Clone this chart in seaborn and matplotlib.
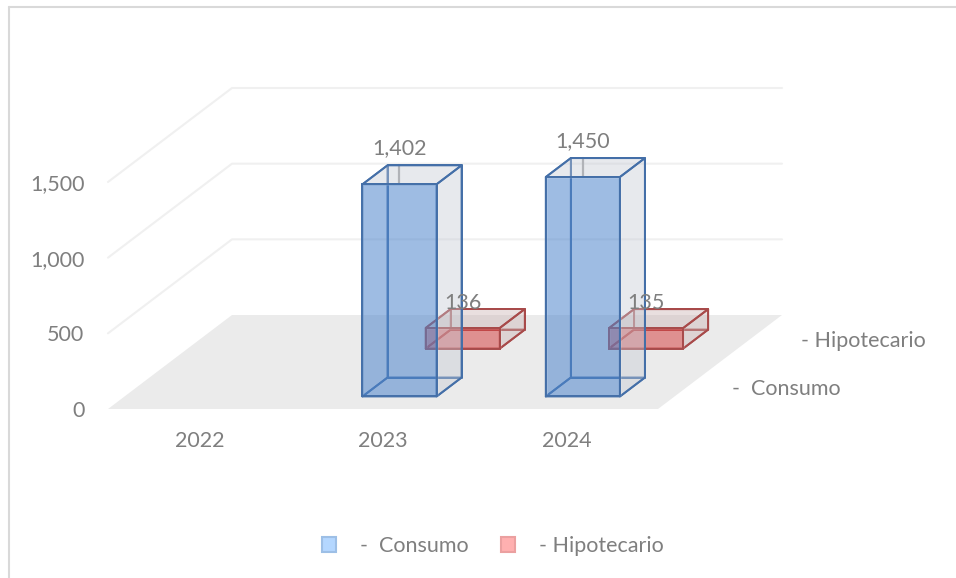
import matplotlib
matplotlib.use('Agg')
import matplotlib.pyplot as plt
import pandas as pd
import seaborn as sns
from matplotlib.lines import Line2D
from matplotlib.patches import Patch, Polygon
from matplotlib.transforms import Affine2D

years = ['2022', '2023', '2024']
consumo = [None, 1402, 1450]
hipotecario = [None, 136, 135]
value_ticks = [0, 500, 1000, 1500]
value_labels = ['0', '500', '1,000', '1,500']
series_labels = ['  -  Consumo', '- Hipotecario']

W, H = 956, 578
GRAY = '#7f7f7f'
FS = 15.5
# one full step of depth in data units, this is what makes the chart look 3d
DX = 124 / 183.33
DV = 94 / (227 / 1500)
BAR_W = 0.404
BAR_D = 0.202

sns.set_theme(style='white')
plt.rcParams['font.family'] = ['Lato', 'DejaVu Sans']
plt.rcParams['font.size'] = FS

fig = plt.figure(figsize=(W / 100, H / 100), dpi=100)
ax = fig.add_axes([108 / W, 169 / H, 550 / W, 227 / H])


def proj(x, v, d):
    return (x + d * DX, v + d * DV)


def face(pts, fc='none', ec='none', alpha=None, z=3, lw=1.4):
    xy = [proj(*p) for p in pts]
    ax.add_patch(Polygon(xy, closed=True, fc=fc, ec=ec, alpha=alpha, lw=lw,
                         zorder=z, clip_on=False, joinstyle='round'))


def draw_series(values, d0, front, edge, side, z):
    d1 = d0 + BAR_D
    for i, v in enumerate(values):
        if v is None:
            continue
        x0, x1 = i - BAR_W / 2, i + BAR_W / 2
        # hidden faces only show their outline
        face([(x0, 0, d1), (x1, 0, d1), (x1, v, d1), (x0, v, d1)], ec=edge, z=z)
        face([(x0, 0, d0), (x0, 0, d1), (x0, v, d1), (x0, v, d0)], ec=edge, z=z)
        face([(x0, 0, d0), (x1, 0, d0), (x1, 0, d1), (x0, 0, d1)], ec=edge, z=z)
        face([(x0, v, d0), (x1, v, d0), (x1, v, d1), (x0, v, d1)], fc=side, alpha=0.4, z=z)
        face([(x1, 0, d0), (x1, 0, d1), (x1, v, d1), (x1, v, d0)], fc=side, alpha=0.4, z=z)
        face([(x0, v, d0), (x1, v, d0), (x1, v, d1), (x0, v, d1)], ec=edge, z=z)
        face([(x1, 0, d0), (x1, 0, d1), (x1, v, d1), (x1, v, d0)], ec=edge, z=z)
    df = pd.DataFrame({'year': years, 'value': pd.to_numeric(pd.Series(values))})
    tf = Affine2D().translate(d0 * DX, d0 * DV) + ax.transData
    sns.barplot(data=df, x='year', y='value', order=years, ax=ax, color=front,
                saturation=1, alpha=0.55, width=BAR_W, errorbar=None,
                transform=tf, clip_on=False, zorder=z + 1)
    sns.barplot(data=df, x='year', y='value', order=years, ax=ax, fill=False,
                color=edge, saturation=1, width=BAR_W, errorbar=None, linewidth=1.4,
                transform=tf, clip_on=False, zorder=z + 1)


# floor and walls
face([(-0.5, 0, 0), (2.5, 0, 0), (2.5, 0, 1), (-0.5, 0, 1)], fc='#ebebeb', z=1)
for t in value_ticks[1:]:
    xs, ys = zip(proj(-0.5, t, 0), proj(-0.5, t, 1), proj(2.5, t, 1))
    ax.plot(xs, ys, color='#f0f0f0', lw=1.5, zorder=1, clip_on=False)

draw_series(hipotecario, 0.643, '#d64545', '#a84a4a', '#c9b1b1', 3)
draw_series(consumo, 0.133, '#4f86cc', '#446fa8', '#c3c9d4', 6)

# data labels, the tall bars also have a leader line
for i, v in enumerate(consumo):
    if v is None:
        continue
    cx, cy = proj(i, v, 0.133)
    ax.plot([cx, cx], [cy, cy + 19 / (227 / 1500)], color='#a6a6a6', lw=1.6, zorder=5, clip_on=False)
    ax.annotate(f'{v:,}', (cx, cy), xytext=(0, 36), textcoords='offset pixels',
                ha='center', va='center', color=GRAY, zorder=10, annotation_clip=False)
for i, v in enumerate(hipotecario):
    if v is None:
        continue
    cx, cy = proj(i, v, 0.643)
    ax.annotate(f'{v:,}', (cx, cy), xytext=(0, 25), textcoords='offset pixels',
                ha='center', va='center', color=GRAY, zorder=10, annotation_clip=False)

ax.set_xlim(-0.5, 2.5)
ax.set_ylim(0, 1500)
ax.set_yticks(value_ticks, value_labels)
ax.set_xlabel('')
ax.set_ylabel('')
ax.tick_params(axis='y', length=0, pad=17, labelcolor=GRAY, labelsize=FS)
ax.tick_params(axis='x', length=0, pad=16, labelcolor=GRAY, labelsize=FS)
ax.patch.set_visible(False)
sns.despine(ax=ax, left=True, bottom=True)

# depth axis labels
fig.text(801 / W, 1 - 341 / H, series_labels[1], color=GRAY, va='center', fontsize=FS)
fig.text(721 / W, 1 - 389 / H, series_labels[0], color=GRAY, va='center', fontsize=FS)

handles = [Patch(fc='#b4d7ff', ec='#9dbfe6', lw=1.5, label=series_labels[0].strip()),
           Patch(fc='#ffb0b0', ec='#eba0a0', lw=1.5, label=series_labels[1])]
fig.legend(handles=handles, frameon=False, ncol=2, loc='center',
           bbox_to_anchor=(493 / W, 1 - 546 / H), handlelength=0.65, handleheight=0.65,
           handletextpad=1.1, columnspacing=1.5, labelcolor=GRAY, fontsize=FS)

# chart frame, only left and top fall inside the crop
fig.add_artist(Line2D([9 / W, 9 / W], [0, 1 - 7 / H], color='#d9d9d9', lw=1.5))
fig.add_artist(Line2D([9 / W, 1], [1 - 7 / H, 1 - 7 / H], color='#d9d9d9', lw=1.5))

fig.savefig('out.png', dpi=100)
